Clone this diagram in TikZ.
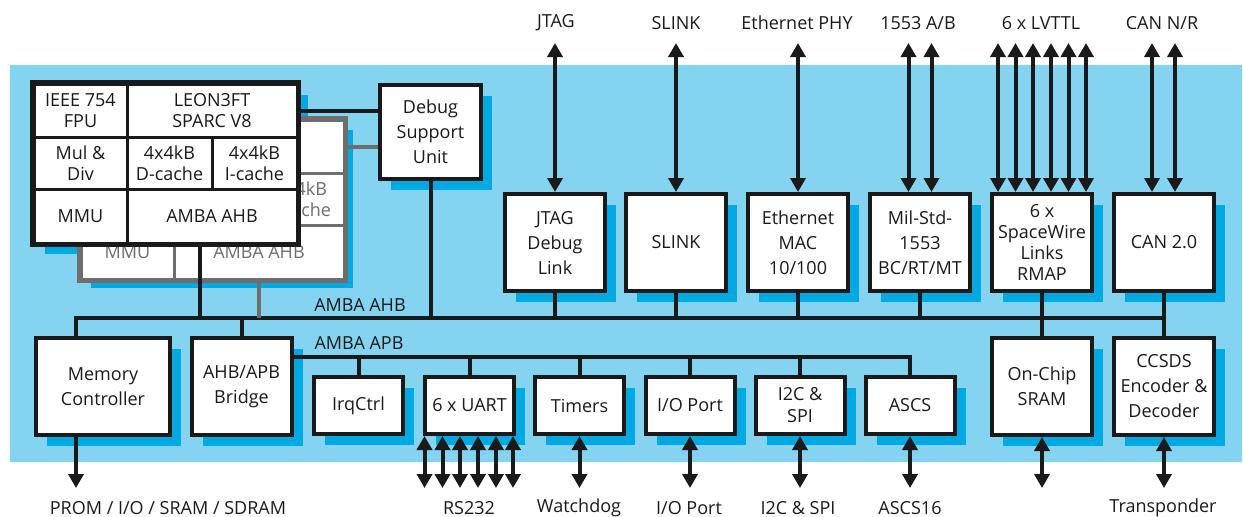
\documentclass[tikz,border=0pt]{standalone}
\usepackage{fontspec}
\setmainfont{Open Sans}
\usetikzlibrary{arrows.meta,shadows}
\definecolor{chipblue}{HTML}{84D3F0}
\definecolor{shadecyan}{HTML}{00A9E2}
\definecolor{coregray}{HTML}{6E6E6E}
\definecolor{ink}{HTML}{1A1A1A}
\begin{document}
\begin{tikzpicture}[
    x=1pt, y=-1pt,
    font=\fontsize{18}{25}\selectfont,
    every node/.style={text=ink},
    blk/.style={draw=ink, line width=4pt, fill=white, align=center, inner sep=0pt,
        drop shadow={shadow xshift=11pt, shadow yshift=-11pt, fill=shadecyan, opacity=1}},
    tall/.style={blk, minimum width=100pt, minimum height=97pt},
    small/.style={blk, minimum width=89pt, minimum height=57pt},
    cell/.style={draw=#1, text=#1, fill=white, line width=3pt, align=center, inner sep=0pt,
        font=\fontsize{18}{21}\selectfont},
    bus/.style={line width=4pt, ink},
    io/.style={<->, >={Triangle[length=14pt,width=15pt]}, line width=4pt, ink}
]
    % chip area
    \useasboundingbox (0,0) rectangle (1243,517);
    \fill[chipblue] (10,65) rectangle (1242,462);

    % processor core, second copy behind
    \fill[shadecyan] (45,95) rectangle (308,254);
    \fill[shadecyan] (91,130) rectangle (353,288);
    \foreach \nm/\dx/\dy/\col in {back/47/36/coregray, core/0/0/ink}{
        \begin{scope}[shift={(\dx,\dy)}]
            \node[cell=\col, minimum width=93pt, minimum height=53pt] (\nm-fpu) at (80.5,110.5) {IEEE 754\\FPU};
            \node[cell=\col, minimum width=170pt, minimum height=53pt] (\nm-iu) at (212,110.5) {LEON3FT\\SPARC V8};
            \node[cell=\col, minimum width=93pt, minimum height=52pt] (\nm-mul) at (80.5,163) {Mul \&\\Div};
            \node[cell=\col, minimum width=85pt, minimum height=52pt] (\nm-dc) at (169.5,163) {4x4kB\\D-cache};
            \node[cell=\col, minimum width=85pt, minimum height=52pt] (\nm-ic) at (254.5,163) {4x4kB\\I-cache};
            \node[cell=\col, minimum width=93pt, minimum height=54pt] (\nm-mmu) at (80.5,216) {MMU};
            \node[cell=\col, minimum width=170pt, minimum height=54pt] (\nm-ahb) at (212,216) {AMBA AHB};
            \draw[\col, line width=4.5pt] (\nm-fpu.north west) rectangle (\nm-ahb.south east);
        \end{scope}
    }

    % debug unit
    \node[blk, minimum width=101pt, minimum height=94pt] (dsu) at (430.5,132) {Debug\\Support\\Unit};
    \draw[bus] (core-iu.east) -- (core-iu.east -| dsu.west);
    \draw[bus, coregray] (back-iu.east) -- (back-iu.east -| dsu.west);

    % AHB peripherals
    \node[tall] (jtag) at (555,242.5) {JTAG\\Debug\\Link};
    \node[tall] (slink) at (676,242.5) {SLINK};
    \node[tall] (eth) at (798,242.5) {Ethernet\\MAC\\10/100};
    \node[tall] (mil) at (920,242.5) {Mil-Std-\\1553\\BC/RT/MT};
    \node[tall, font=\fontsize{18}{21}\selectfont] (spw) at (1042,242.5) {6 x\\SpaceWire\\Links\\RMAP};
    \node[tall] (can) at (1164,242.5) {CAN 2.0};

    \node[blk, minimum width=134pt, minimum height=97pt] (memctl) at (103,386.5) {Memory\\Controller};
    \node[tall] (bridge) at (241.5,386.5) {AHB/APB\\Bridge};
    \node[tall] (sram) at (1042,386.5) {On-Chip\\SRAM};
    \node[tall] (ccsds) at (1164,386.5) {CCSDS\\Encoder \&\\Decoder};

    % APB peripherals
    \node[small] (irq) at (358.5,405.5) {IrqCtrl};
    \node[small] (uart) at (469.5,405.5) {6 x UART};
    \node[small] (timers) at (579.5,405.5) {Timers};
    \node[small] (gpio) at (690,405.5) {I/O Port};
    \node[small, font=\fontsize{18}{22}\selectfont] (i2c) at (800,405.5) {I2C \&\\SPI};
    \node[small] (ascs) at (910,405.5) {ASCS};

    % buses
    \coordinate (ahb) at (0,318);
    \coordinate (apb) at (0,357);
    \draw[bus] ([xshift=-27pt]memctl.north) |- (ccsds.north |- ahb) -- (ccsds.north);
    \foreach \b in {jtag,slink,eth,mil,spw,can,dsu}
        \draw[bus] (\b.south) -- (\b.south |- ahb);
    \foreach \b in {bridge,sram}
        \draw[bus] (\b.north) -- (\b.north |- ahb);
    \path ([xshift=-12pt]core-ahb.south) coordinate (coredrop);
    \draw[bus] (coredrop) -- (coredrop |- ahb);
    \draw[bus, coregray] (back-ahb.south) -- (back-ahb.south |- ahb);
    \node (ahblbl) at (360,305) {AMBA AHB};

    \draw[bus] ([yshift=29.5pt]bridge.east) -| (ascs.north);
    \foreach \b in {irq,uart,timers,gpio,i2c}
        \draw[bus] (\b.north) -- (\b.north |- apb);
    \node (apblbl) at (359,343) {AMBA APB};

    % external pins
    \coordinate (top) at (0,43);
    \coordinate (pins) at (0,488);
    \foreach \b in {jtag,slink,eth}
        \draw[io] (\b.north) -- (\b.north |- top);
    \foreach \b/\dx in {mil/-11.5, mil/11.5, spw/-44, spw/-26.5, spw/-9, spw/9, spw/26.5, spw/44, can/-12, can/11}{
        \path ([xshift=\dx pt]\b.north) coordinate (pin);
        \draw[io] (pin) -- (pin |- top);
    }
    \foreach \dx in {-45,-27,-9.5,8.5,26.5,43.5}{
        \path ([xshift=\dx pt]uart.south) coordinate (pin);
        \draw[io] (pin) -- (pin |- pins);
    }
    \foreach \b in {timers,gpio,i2c,ascs,sram,ccsds}
        \draw[io] (\b.south) -- (\b.south |- pins);
    \path ([xshift=-27pt]memctl.south) coordinate (mempin);
    \draw[io, ->] (mempin) -- (mempin |- pins);

    % Labels
    \node (t-jtag) at (556,23) {JTAG};
    \node (t-slink) at (676,23) {SLINK};
    \node (t-phy) at (797,23) {Ethernet PHY};
    \node (t-mil) at (918,23) {1553 A/B};
    \node (t-lvttl) at (1041,23) {6 x LVTTL};
    \node (t-can) at (1162,23) {CAN N/R};

    \node (b-mem) at (168,508) {PROM / I/O / SRAM / SDRAM};
    \node (b-rs) at (469,508) {RS232};
    \node (b-wd) at (579,508) {Watchdog};
    \node (b-io) at (689,508) {I/O Port};
    \node (b-i2c) at (798,508) {I2C \& SPI};
    \node (b-ascs) at (910,508) {ASCS16};
    \node (b-tr) at (1163,508) {Transponder};
\end{tikzpicture}
\end{document}
